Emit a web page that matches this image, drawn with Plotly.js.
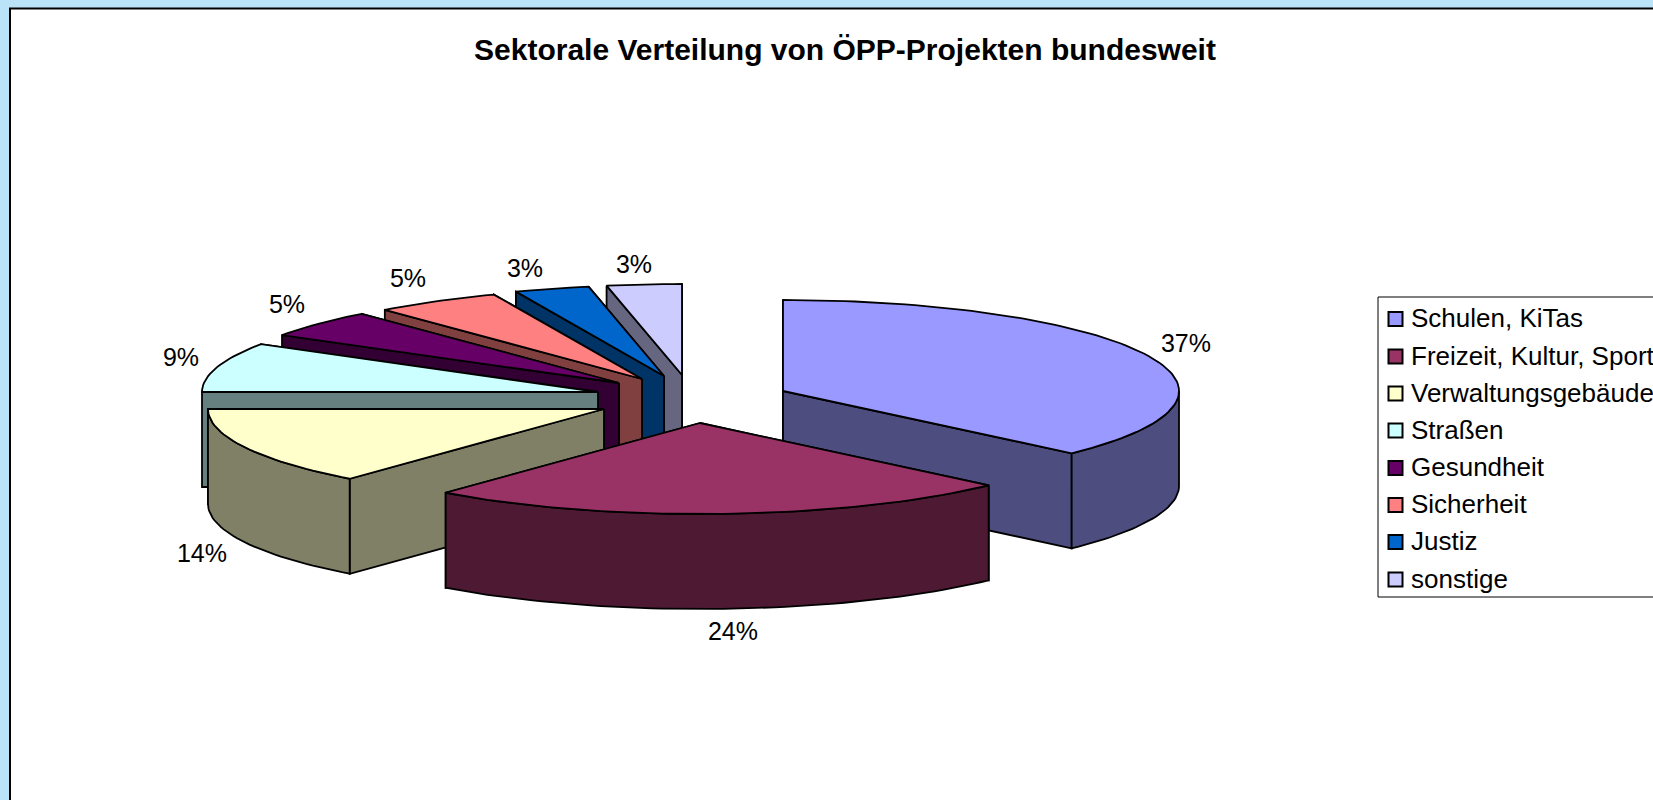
<!DOCTYPE html>
<html>
<head>
<meta charset="utf-8">
<script src="https://cdn.plot.ly/plotly-3.0.1.min.js"></script>
<style>html,body{margin:0;padding:0;background:#BBE3F8;overflow:hidden}#chart{width:1653px;height:800px}</style>
</head>
<body>
<div id="chart"></div>
<script>
// ---- data ----
const chartTitle = 'Sektorale Verteilung von ÖPP-Projekten bundesweit';
const categories = ['Schulen, KiTas','Freizeit, Kultur, Sport','Verwaltungsgebäude','Straßen','Gesundheit','Sicherheit','Justiz','sonstige'];
const values = [37, 24.1, 13.9, 8.8, 4.95, 5.15, 3.05, 3.05];

// ---- styles ----
const topColors  = ['#9999FF','#993366','#FFFFCC','#CCFFFF','#660066','#FF8080','#0066CC','#CCCCFF'];
const sideColors = ['#4D4D80','#4D1933','#808066','#668080','#330033','#804040','#003366','#666680'];

// ---- geometry (pixel-scaled axes) ----
const apexX = [783, 700, 604, 598, 619, 642, 664, 682];
const apexY = [391, 423, 409, 392, 383, 379, 376, 375];
const labelX = [1186, 733, 202, 181, 287, 408, 525, 634];
const labelY = [345.5, 633.5, 556, 360, 306.5, 280.5, 270.5, 266.5];
const legendY = [319, 356.5, 393.5, 430.5, 468, 505, 542, 579.5];
const paintOrder = [7, 6, 5, 4, 3, 2, 0, 1];
const RX = 396, RY = 91, DEPTH = 95;

const total = values.reduce((a, b) => a + b, 0);
const rad = d => d * Math.PI / 180;
let acc = 0;
const startA = [], endA = [];
values.forEach(v => { startA.push(acc); acc += v / total * 360; endA.push(acc); });

const rimPt = (i, a) => [apexX[i] + RX * Math.sin(rad(a)), apexY[i] - RY * Math.cos(rad(a))];
function arc(i, a, b) {
  const pts = [];
  const n = Math.max(2, Math.ceil((b - a) / 1.5));
  for (let k = 0; k <= n; k++) pts.push(rimPt(i, a + (b - a) * k / n));
  return pts;
}
function poly(pts, color) {
  const c = pts.concat([pts[0]]);
  return {type:'scatter', mode:'lines', x:c.map(p => p[0]), y:c.map(p => p[1]),
    fill:'toself', fillcolor:color, line:{color:'#000', width:1.8}, hoverinfo:'skip', showlegend:false};
}
const traces = [];
paintOrder.forEach(i => {
  const a = startA[i], b = endA[i], ax = apexX[i], ay = apexY[i], side = sideColors[i];
  const wall = ang => { const r = rimPt(i, ang);
    return poly([[ax, ay], r, [r[0], r[1] + DEPTH], [ax, ay + DEPTH]], side); };
  const walls = [a, b].sort((p, q) => rimPt(i, p)[1] - rimPt(i, q)[1]);
  traces.push(wall(walls[0]), wall(walls[1]));
  const ra = Math.max(a, 90), rb = Math.min(b, 270);
  if (rb > ra) {
    const up = arc(i, ra, rb);
    const down = up.slice().reverse().map(p => [p[0], p[1] + DEPTH]);
    traces.push(poly(up.concat(down), side));
  }
  traces.push(poly([[ax, ay]].concat(arc(i, a, b)), topColors[i]));
});

// percent labels
traces.push({type:'scatter', mode:'text', x:labelX, y:labelY,
  text:values.map(v => Math.round(v) + '%'), textposition:'middle center',
  textfont:{family:'Liberation Sans, Arial, sans-serif', size:25, color:'#000'},
  hoverinfo:'skip', showlegend:false, cliponaxis:false});

// legend
categories.forEach((c, i) => {
  traces.push({type:'scatter', mode:'markers', x:[1395.5], y:[legendY[i]],
    marker:{symbol:'square', size:14, color:topColors[i], line:{color:'#000', width:2}},
    hoverinfo:'skip', showlegend:false, cliponaxis:false});
  traces.push({type:'scatter', mode:'text', x:[1411], y:[legendY[i] + 1.5], text:[c],
    textposition:'middle right',
    textfont:{family:'Liberation Sans, Arial, sans-serif', size:26, color:'#000'},
    hoverinfo:'skip', showlegend:false, cliponaxis:false});
});

const hidden = {visible:false, fixedrange:true};
const layout = {
  width:1653, height:800, margin:{l:0, r:0, t:0, b:0},
  paper_bgcolor:'#BBE3F8', plot_bgcolor:'rgba(0,0,0,0)', showlegend:false, hovermode:false,
  xaxis:Object.assign({range:[0, 1653]}, hidden),
  yaxis:Object.assign({range:[800, 0]}, hidden),
  title:{text:chartTitle, x:845/1653, xanchor:'center', y:1 - 49/800, yanchor:'middle',
    font:{family:'Liberation Sans, Arial, sans-serif', size:30, weight:700, color:'#000'}},
  shapes:[
    {type:'rect', layer:'below', xref:'x', yref:'y', x0:10, x1:1670, y0:8.5, y1:820,
      fillcolor:'#FFFFFF', line:{color:'#000', width:2}},
    {type:'rect', layer:'below', xref:'x', yref:'y', x0:1378, x1:1670, y0:297, y1:597,
      fillcolor:'#FFFFFF', line:{color:'#000', width:1}}
  ]
};
Plotly.newPlot('chart', traces, layout, {displayModeBar:false, staticPlot:true});
</script>
</body>
</html>
